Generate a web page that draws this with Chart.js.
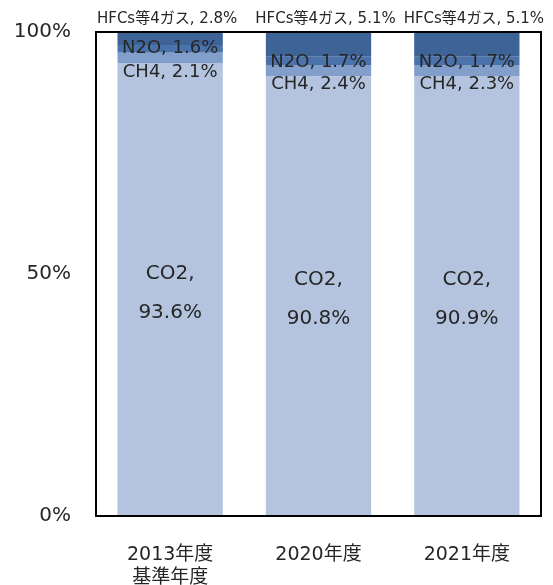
<!DOCTYPE html>
<html><head><meta charset="utf-8">
<script src="https://cdn.jsdelivr.net/npm/chart.js@4"></script>
<style>html,body{margin:0;padding:0;background:#fff}#wrap{width:553px;height:585px}</style>
</head><body><div id="wrap"><canvas id="c" width="553" height="585"></canvas></div>
<script>
const categories = [["2013年度","基準年度"], "2020年度", "2021年度"];
const co2 = [93.6, 90.8, 90.9];
const ch4 = [2.1, 2.4, 2.3];
const n2o = [1.6, 1.7, 1.7];
const hfcs = [2.8, 5.1, 5.1];
const seriesNames = ["CO2", "CH4", "N2O", "HFCs等4ガス"];
const yTicks = [0, 50, 100];

const FONT = "'DejaVu Sans', 'Noto Sans CJK JP', sans-serif";
const TXT = '#262626';

const labelPlugin = {
  id: 'labels',
  afterDatasetsDraw(chart) {
    const ctx = chart.ctx;
    const a = chart.chartArea;
    ctx.save();
    ctx.fillStyle = TXT;
    ctx.textAlign = 'center';
    ctx.textBaseline = 'middle';
    for (let i = 0; i < categories.length; i++) {
      // CO2
      let m = chart.getDatasetMeta(0).data[i];
      let cy = (m.y + m.base) / 2;
      ctx.font = '20px ' + FONT;
      ctx.fillText(seriesNames[0] + ',', m.x, cy - 16);
      ctx.fillText(co2[i].toFixed(1) + '%', m.x, cy + 23);
      // N2O
      m = chart.getDatasetMeta(2).data[i];
      cy = (m.y + m.base) / 2;
      ctx.font = '18px ' + FONT;
      ctx.fillText(seriesNames[2] + ', ' + n2o[i].toFixed(1) + '%', m.x, cy + (i === 0 ? -1 : 2));
      // CH4
      m = chart.getDatasetMeta(1).data[i];
      cy = (m.y + m.base) / 2;
      ctx.fillText(seriesNames[1] + ', ' + ch4[i].toFixed(1) + '%', m.x, cy + 14);
      // HFCs
      m = chart.getDatasetMeta(3).data[i];
      ctx.font = '15px ' + FONT;
      ctx.fillText(seriesNames[3] + ', ' + hfcs[i].toFixed(1) + '%', m.x + (i === 0 ? -3 : 7), a.top - 13);
    }
    ctx.strokeStyle = '#000';
    ctx.lineWidth = 2;
    ctx.strokeRect(a.left, a.top, a.right - a.left, a.bottom - a.top);
    ctx.restore();
  }
};

new Chart(document.getElementById('c'), {
  type: 'bar',
  data: {
    labels: categories,
    datasets: [
      { label: seriesNames[0], data: co2, backgroundColor: '#b4c4df' },
      { label: seriesNames[1], data: ch4, backgroundColor: '#829fcc' },
      { label: seriesNames[2], data: n2o, backgroundColor: '#4b73ab' },
      { label: seriesNames[3], data: hfcs, backgroundColor: '#3e6397' }
    ]
  },
  options: {
    responsive: false,
    animation: false,
    layout: { padding: { top: 32, right: 12, left: 0, bottom: 0 } },
    datasets: { bar: { barPercentage: 1, categoryPercentage: 0.71, borderWidth: 0 } },
    plugins: { legend: { display: false }, tooltip: { enabled: false } },
    scales: {
      x: {
        stacked: true,
        grid: { display: false, drawTicks: false },
        border: { display: false },
        ticks: { color: TXT, font: { family: FONT, size: 19 }, padding: 28, maxRotation: 0 },
        afterFit(s) { s.height = 69; s.paddingLeft = 0; s.paddingRight = 0; }
      },
      y: {
        stacked: true,
        min: 0, max: 100,
        afterBuildTicks(s) { s.ticks = yTicks.map(v => ({ value: v })); },
        grid: { display: false, drawTicks: false },
        border: { display: false },
        ticks: { color: TXT, font: { family: FONT, size: 20 }, padding: 25, callback: v => v + '%' },
        afterFit(s) { s.width = 96; s.paddingTop = 0; s.paddingBottom = 0; }
      }
    }
  },
  plugins: [labelPlugin]
});
</script></body></html>
